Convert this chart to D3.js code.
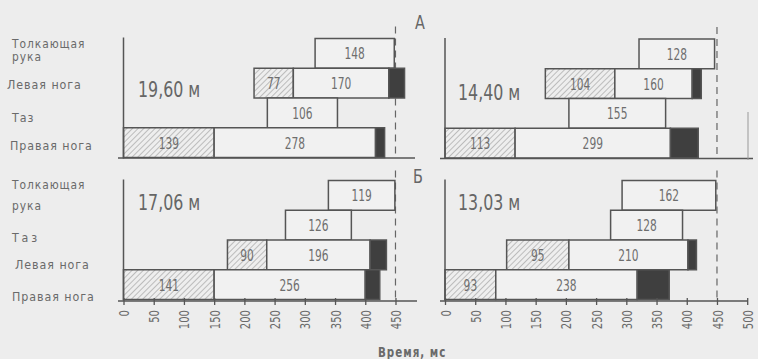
<!DOCTYPE html>
<html><head><meta charset="utf-8">
<script src="https://cdn.jsdelivr.net/npm/d3@7"></script>
<style>body{margin:0;background:#ededed}svg{display:block}</style>
</head><body>
<svg id="c" width="758" height="359"></svg>
<script>
// ---------- DATA (times in ms) ----------
const rowsA = ["Толкающая рука", "Левая нога", "Таз", "Правая нога"];
const rowsB = ["Толкающая рука", "Таз", "Левая нога", "Правая нога"];
const resultLabels = ["19,60 м", "14,40 м", "17,06 м", "13,03 м"];
const sectionLabels = ["А", "Б"];
// panel 1: A, 19,60 м
const p1Hatched = [null, [216, 281], null, [0, 150]];
const p1Open    = [[317, 448], [281, 439], [238, 354], [150, 417]];
const p1Dark    = [null, [439, 465], null, [417, 432]];
const p1HatchLabels = [null, "77", null, "139"];
const p1OpenLabels  = ["148", "170", "106", "278"];
// panel 2: A, 14,40 м
const p2Hatched = [null, [166, 281], null, [0, 116]];
const p2Open    = [[321, 446], [281, 409], [205, 365], [116, 373]];
const p2Dark    = [null, [409, 424], null, [373, 419]];
const p2HatchLabels = [null, "104", null, "113"];
const p2OpenLabels  = ["128", "160", "155", "299"];
// panel 3: Б, 17,06 м
const p3Hatched = [null, null, [172, 237], [0, 150]];
const p3Open    = [[339, 449], [268, 377], [237, 408], [150, 400]];
const p3Dark    = [null, null, [408, 435], [400, 424]];
const p3HatchLabels = [null, null, "90", "141"];
const p3OpenLabels  = ["119", "126", "196", "256"];
// panel 4: Б, 13,03 м
const p4Hatched = [null, null, [102, 205], [0, 84]];
const p4Open    = [[293, 448], [274, 393], [205, 402], [84, 318]];
const p4Dark    = [null, null, [402, 416], [318, 371]];
const p4HatchLabels = [null, null, "95", "93"];
const p4OpenLabels  = ["162", "128", "210", "238"];
const ticksLeft  = [0, 50, 100, 150, 200, 250, 300, 350, 400, 450];
const ticksRight = [0, 50, 100, 150, 200, 250, 300, 350, 400, 450, 500];
const refLine = 450;
const axisTitle = "Время, мс";

// ---------- LAYOUT ----------
const FONT = "'DejaVu Sans Condensed','DejaVu Sans',sans-serif";
const INK = "#555", TXT = "#6a6a6a";
const svg = d3.select("#c");
svg.append("rect").attr("width", 758).attr("height", 359).attr("fill", "#ededed");

// narrow text helper: positioned by translate, compressed horizontally
function ntext(parent, x, y, str, size, sx, opts = {}) {
  const t = parent.append("text")
    .attr("transform", `translate(${x},${y}) scale(${sx},1)`)
    .attr("font-family", FONT).attr("font-size", size)
    .attr("fill", opts.fill || TXT)
    .attr("text-anchor", opts.anchor || "start");
  if (opts.ls) t.attr("letter-spacing", opts.ls);
  if (opts.weight) t.attr("font-weight", opts.weight);
  t.text(str);
  return t;
}

const defs = svg.append("defs");
const pat = defs.append("pattern").attr("id", "hatch").attr("patternUnits", "userSpaceOnUse")
  .attr("width", 4).attr("height", 4).attr("patternTransform", "rotate(45)");
pat.append("rect").attr("width", 4).attr("height", 4).attr("fill", "#eeeeee");
pat.append("line").attr("x1", 0).attr("y1", 0).attr("x2", 0).attr("y2", 4)
  .attr("stroke", "#9a9a9a").attr("stroke-width", 1.2);

const panels = [
  {rows: rowsA, hatched: p1Hatched, open: p1Open, dark: p1Dark, hl: p1HatchLabels, ol: p1OpenLabels,
   x0: 123.5, top: 38.5, bottom: 157.5, ticks: null, axisEnd: 415, axisStart: 118, label: resultLabels[0], lx: 138, ly: 97},
  {rows: rowsA, hatched: p2Hatched, open: p2Open, dark: p2Dark, hl: p2HatchLabels, ol: p2OpenLabels,
   x0: 445, top: 39, bottom: 158, ticks: null, axisEnd: 753, axisStart: 440, label: resultLabels[1], lx: 458, ly: 100},
  {rows: rowsB, hatched: p3Hatched, open: p3Open, dark: p3Dark, hl: p3HatchLabels, ol: p3OpenLabels,
   x0: 123.5, top: 180.5, bottom: 299.5, ticks: ticksLeft, axisEnd: 417, axisStart: 118, label: resultLabels[2], lx: 138, ly: 210},
  {rows: rowsB, hatched: p4Hatched, open: p4Open, dark: p4Dark, hl: p4HatchLabels, ol: p4OpenLabels,
   x0: 445, top: 180.5, bottom: 299.5, ticks: ticksRight, axisEnd: 748, axisStart: 440, label: resultLabels[3], lx: 458, ly: 210}
];
const PXMS = 0.6044;

panels.forEach(p => {
  const x = d3.scaleLinear().domain([0, 500]).range([p.x0, p.x0 + 500 * PXMS]);
  const y = d3.scaleBand().domain(p.rows).range([p.top, p.bottom]).padding(0);
  const g = svg.append("g");

  // reference dashed line at 450 ms
  g.append("line").attr("x1", x(refLine)).attr("x2", x(refLine))
    .attr("y1", p.top - (p.ticks ? 10 : 12)).attr("y2", p.bottom + 1)
    .attr("stroke", "#666").attr("stroke-width", 1.2).attr("stroke-dasharray", "7,5");

  const segs = [];
  p.rows.forEach((r, i) => {
    if (p.hatched[i]) segs.push({r, s: p.hatched[i], type: "h", lab: p.hl[i]});
    segs.push({r, s: p.open[i], type: "o", lab: p.ol[i]});
    if (p.dark[i]) segs.push({r, s: p.dark[i], type: "d", lab: null});
  });
  g.selectAll("rect.seg").data(segs).join("rect").attr("class", "seg")
    .attr("x", d => x(d.s[0])).attr("width", d => x(d.s[1]) - x(d.s[0]))
    .attr("y", d => y(d.r)).attr("height", y.bandwidth())
    .attr("fill", d => d.type === "h" ? "url(#hatch)" : d.type === "d" ? "#3f3f3f" : "#f1f1f1")
    .attr("stroke", INK).attr("stroke-width", 1.5);
  segs.filter(d => d.lab).forEach(d => {
    ntext(g, (x(d.s[0]) + x(d.s[1])) / 2, y(d.r) + y.bandwidth() / 2 + 6, d.lab, 16, 0.74,
      {anchor: "middle", fill: "#6e6e6e"});
  });

  // axes lines
  g.append("line").attr("x1", p.x0).attr("x2", p.x0).attr("y1", p.top - 1).attr("y2", p.bottom + 1)
    .attr("stroke", INK).attr("stroke-width", 1.5);
  const axY = p.bottom + (p.ticks ? 1.5 : 0.5);
  g.append("line").attr("x1", p.axisStart).attr("x2", p.axisEnd).attr("y1", axY).attr("y2", axY)
    .attr("stroke", INK).attr("stroke-width", 1.5);

  if (p.ticks) {
    const ax = g.append("g").attr("transform", `translate(0,${axY - 3})`)
      .call(d3.axisBottom(x).tickValues(p.ticks).tickSize(7).tickFormat(d3.format("d")));
    ax.select(".domain").remove();
    ax.selectAll(".tick line").attr("stroke", INK).attr("stroke-width", 1.3);
    ax.selectAll(".tick text").attr("transform", "rotate(-90) scale(0.8,1)")
      .attr("x", -15).attr("y", 0).attr("dy", "0.36em").attr("text-anchor", "end")
      .attr("font-family", FONT).attr("font-size", 14).attr("fill", TXT);
  }

  ntext(g, p.lx, p.ly, p.label, 22, 0.8, {fill: "#666"});
});

// row labels (left side)
const rowLabelY = {
  A: {"Толкающая рука": [48, 61], "Левая нога": 89, "Таз": 122, "Правая нога": 150},
  B: {"Толкающая рука": [189, 210], "Таз": 242, "Левая нога": 269, "Правая нога": 301}
};
const rowLabelX = {A: {"Левая нога": 7, "Правая нога": 10}, B: {"Левая нога": 15}};
[["A", rowsA], ["B", rowsB]].forEach(([k, rows]) => {
  rows.forEach(r => {
    const yy = rowLabelY[k][r];
    const xx = (rowLabelX[k][r] !== undefined) ? rowLabelX[k][r] : 12;
    if (Array.isArray(yy)) {
      const parts = r.split(" ");
      ntext(svg, xx, yy[0], parts[0], 12.5, 0.95, {ls: 1});
      ntext(svg, xx, yy[1], parts[1], 12.5, 0.95, {ls: 1});
    } else {
      ntext(svg, xx, yy, r, 13, 0.95, {ls: (k === "B" && r === "Таз") ? 3 : 1});
    }
  });
});

// section labels
ntext(svg, 415, 29, sectionLabels[0], 20, 0.8, {fill: "#666"});
ntext(svg, 413, 183, sectionLabels[1], 20, 0.8, {fill: "#666"});

// axis title
ntext(svg, 378, 357, axisTitle, 14, 0.82, {weight: "bold", ls: 1.2});

// faint stray mark at right edge
svg.append("line").attr("x1", 748).attr("x2", 748).attr("y1", 112).attr("y2", 160)
  .attr("stroke", "#999").attr("stroke-width", 1);
</script>
</body></html>
